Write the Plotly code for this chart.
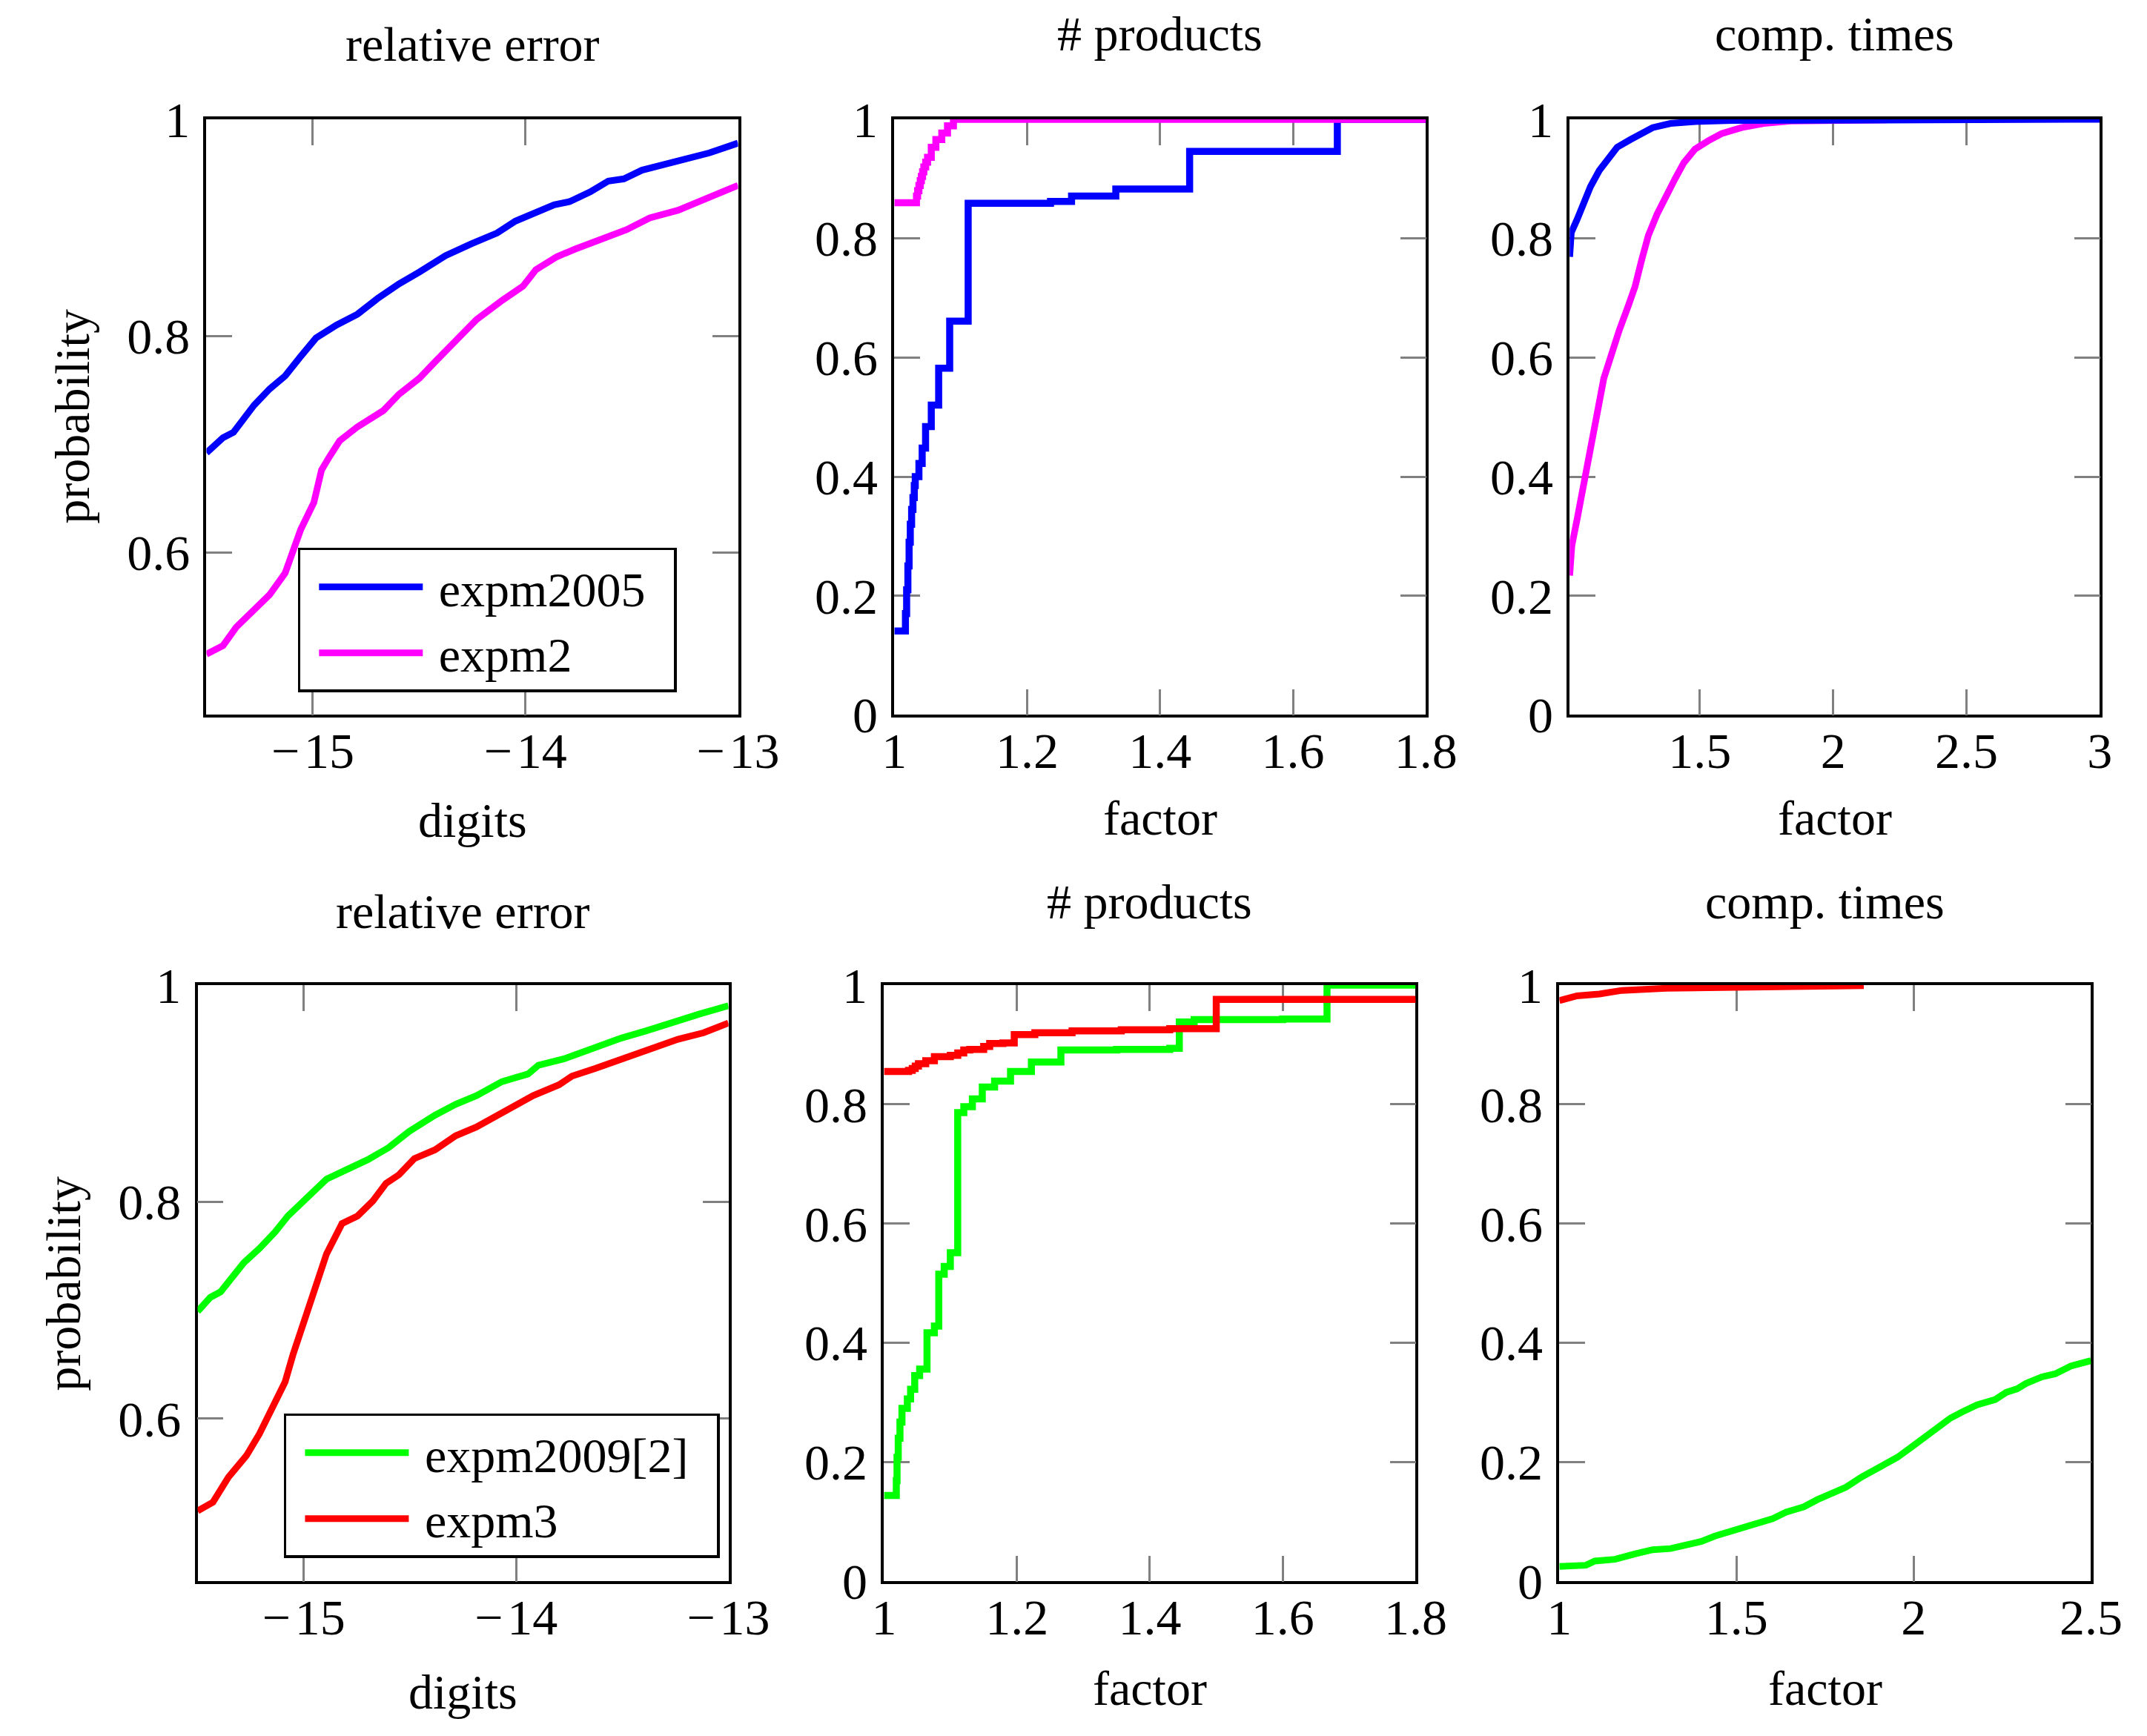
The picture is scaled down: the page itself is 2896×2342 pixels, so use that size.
import plotly.graph_objects as go

W, H = 2896, 2342
FONT = "Liberation Serif, Times New Roman, serif"

# relative error, top row
err_x_expm2005 = [-15.5, -15.422, -15.373, -15.337, -15.276, -15.203, -15.13, -15.057, -14.985, -14.888,
                  -14.79, -14.692, -14.595, -14.498, -14.376, -14.254, -14.133, -14.047, -13.962, -13.865,
                  -13.792, -13.695, -13.61, -13.537, -13.452, -13.33, -13.232, -13.135, -13.0]
err_y_expm2005 = [0.692, 0.706, 0.711, 0.721, 0.736, 0.751, 0.763, 0.781, 0.798, 0.810,
                  0.820, 0.835, 0.848, 0.859, 0.874, 0.885, 0.895, 0.906, 0.913, 0.921,
                  0.924, 0.933, 0.943, 0.945, 0.953, 0.959, 0.964, 0.969, 0.978]
err_x_expm2 = [-15.5, -15.422, -15.36, -15.276, -15.203, -15.13, -15.094, -15.057, -14.995, -14.959,
               -14.923, -14.874, -14.79, -14.668, -14.595, -14.498, -14.425, -14.352, -14.23, -14.108,
               -14.011, -13.951, -13.853, -13.768, -13.647, -13.525, -13.415, -13.282, -13.16, -13.0]
err_y_expm2 = [0.506, 0.514, 0.531, 0.546, 0.561, 0.581, 0.601, 0.621, 0.646, 0.676,
               0.688, 0.703, 0.716, 0.731, 0.746, 0.761, 0.776, 0.791, 0.815, 0.833,
               0.846, 0.861, 0.873, 0.880, 0.889, 0.898, 0.909, 0.916, 0.926, 0.939]

# products, top row (step curves)
prod_x_expm2005 = [1.0, 1.0167, 1.0185, 1.0204, 1.0222, 1.024, 1.026, 1.028, 1.030, 1.0315, 1.037,
                   1.0419, 1.047, 1.0556, 1.0667, 1.0833, 1.1111, 1.235, 1.2667, 1.3333, 1.4444,
                   1.6667, 1.8]
prod_y_expm2005 = [0.141, 0.17, 0.21, 0.25, 0.29, 0.32, 0.345, 0.365, 0.385, 0.40, 0.422,
                   0.448, 0.484, 0.52, 0.582, 0.661, 0.859, 0.862, 0.871, 0.883, 0.946,
                   1.0, 1.0]
prod_x_expm2 = [1.0, 1.0333, 1.035, 1.037, 1.039, 1.0407, 1.0425, 1.0444, 1.0472, 1.05, 1.0556,
                1.0625, 1.0714, 1.08, 1.0889, 1.8]
prod_y_expm2 = [0.860, 0.871, 0.880, 0.889, 0.897, 0.904, 0.912, 0.92, 0.928, 0.936, 0.953,
                0.966, 0.977, 0.989, 1.0, 1.0]

# comp. times, top row
time_x_expm2005 = [1.012, 1.018, 1.04, 1.065, 1.09, 1.123, 1.157, 1.19, 1.24, 1.282, 1.323,
                   1.39, 1.473, 1.623, 1.955, 3.0]
time_y_expm2005 = [0.769, 0.81, 0.832, 0.859, 0.887, 0.914, 0.935, 0.953, 0.966, 0.977, 0.986,
                   0.993, 0.996, 0.998, 0.999, 1.0]
time_x_expm2 = [1.012, 1.02, 1.04, 1.065, 1.09, 1.115, 1.14, 1.165, 1.198, 1.232, 1.257, 1.282,
                1.307, 1.34, 1.373, 1.407, 1.44, 1.482, 1.532, 1.582, 1.657, 1.74, 1.84, 2.2]
time_y_expm2 = [0.234, 0.284, 0.329, 0.393, 0.456, 0.506, 0.565, 0.601, 0.646, 0.687, 0.719, 0.764,
                0.805, 0.841, 0.873, 0.9, 0.927, 0.95, 0.964, 0.976, 0.986, 0.993, 0.997, 0.999]

# relative error, bottom row
err_x_expm2009 = [-15.5, -15.44, -15.392, -15.331, -15.282, -15.209, -15.136, -15.075, -15.002, -14.942,
                  -14.893, -14.796, -14.698, -14.601, -14.504, -14.382, -14.285, -14.187, -14.066, -13.944,
                  -13.895, -13.774, -13.628, -13.506, -13.384, -13.263, -13.141, -13.0]
err_y_expm2009 = [0.699, 0.712, 0.717, 0.732, 0.744, 0.757, 0.772, 0.787, 0.800, 0.812,
                  0.821, 0.830, 0.839, 0.850, 0.865, 0.880, 0.890, 0.898, 0.911, 0.918,
                  0.926, 0.932, 0.943, 0.951, 0.958, 0.966, 0.973, 0.981]
err_x_expm3 = [-15.5, -15.428, -15.355, -15.27, -15.209, -15.136, -15.088, -15.051, -15.002, -14.954,
               -14.893, -14.82, -14.747, -14.674, -14.613, -14.552, -14.479, -14.382, -14.285, -14.187,
               -14.09, -13.993, -13.92, -13.798, -13.737, -13.628, -13.506, -13.384, -13.238, -13.117, -13.0]
err_y_expm3 = [0.515, 0.523, 0.546, 0.566, 0.586, 0.614, 0.634, 0.659, 0.687, 0.719,
               0.752, 0.780, 0.787, 0.801, 0.817, 0.825, 0.840, 0.848, 0.861, 0.869,
               0.880, 0.891, 0.898, 0.908, 0.916, 0.923, 0.931, 0.940, 0.950, 0.956, 0.965]

# products, bottom row (step curves)
prod_x_expm2009 = [1.0, 1.0185, 1.0196, 1.0214, 1.024, 1.027, 1.0351, 1.04, 1.0462, 1.0536, 1.0647,
                   1.0758, 1.0824, 1.0906, 1.0998, 1.1109, 1.1201, 1.133, 1.1479, 1.1664, 1.1904,
                   1.2218, 1.2662, 1.35, 1.43, 1.4444, 1.4667, 1.6, 1.6667, 1.8]
prod_y_expm2009 = [0.144, 0.169, 0.208, 0.24, 0.267, 0.29, 0.306, 0.322, 0.345, 0.356, 0.417,
                   0.428, 0.515, 0.528, 0.551, 0.786, 0.796, 0.809, 0.829, 0.839, 0.855,
                   0.871, 0.891, 0.892, 0.894, 0.938, 0.942, 0.943, 1.0, 1.0]
prod_x_expm3 = [1.0, 1.037, 1.0425, 1.047, 1.0518, 1.0628, 1.0758, 1.0998, 1.111, 1.12, 1.129,
                1.15, 1.159, 1.179, 1.196, 1.227, 1.283, 1.357, 1.43, 1.5, 1.8]
prod_y_expm3 = [0.855, 0.857, 0.86, 0.864, 0.868, 0.873, 0.88, 0.882, 0.886, 0.891, 0.892,
                0.897, 0.902, 0.903, 0.917, 0.92, 0.923, 0.925, 0.927, 0.976, 0.978]

# comp. times, bottom row
time_x_expm2009 = [1.0, 1.075, 1.1, 1.157, 1.213, 1.263, 1.314, 1.401, 1.439, 1.501, 1.552, 1.602,
                   1.64, 1.69, 1.728, 1.778, 1.809, 1.853, 1.903, 1.954, 1.991, 2.029, 2.066, 2.104,
                   2.136, 2.179, 2.23, 2.261, 2.292, 2.317, 2.362, 2.399, 2.443, 2.5]
time_y_expm2009 = [0.025, 0.027, 0.034, 0.037, 0.046, 0.053, 0.055, 0.067, 0.076, 0.087, 0.095, 0.105,
                   0.116, 0.125, 0.137, 0.151, 0.158, 0.175, 0.192, 0.208, 0.224, 0.242, 0.256, 0.274,
                   0.284, 0.296, 0.305, 0.317, 0.323, 0.332, 0.343, 0.348, 0.361, 0.37]
time_x_expm3 = [1.0, 1.05, 1.113, 1.176, 1.301, 1.427, 1.552, 1.859]
time_y_expm3 = [0.974, 0.982, 0.985, 0.991, 0.9945, 0.996, 0.997, 0.999]

BLUE, MAGENTA, GREEN, RED = "#0000ff", "#ff00ff", "#00ff00", "#ff0000"
NB = "\u00a0"


def px(x):
    return x / W


def py(y):
    return 1 - y / H


fig = go.Figure()


def add(x, y, color, ax, name=None, legend=None, shape="linear", width=9):
    fig.add_trace(go.Scatter(
        x=x, y=y, mode="lines", name=name,
        line=dict(color=color, width=width, shape=shape),
        xaxis="x" + ax, yaxis="y" + ax,
        showlegend=name is not None, legend=legend,
    ))


add(err_x_expm2005, err_y_expm2005, BLUE, "", NB + "expm2005" + NB * 2, "legend")
add(err_x_expm2, err_y_expm2, MAGENTA, "", NB + "expm2", "legend")
add(prod_x_expm2005, prod_y_expm2005, BLUE, "2", shape="hv", width=9.5)
add(prod_x_expm2, prod_y_expm2, MAGENTA, "2", shape="hv", width=9.5)
add(time_x_expm2, time_y_expm2, MAGENTA, "3")
add(time_x_expm2005, time_y_expm2005, BLUE, "3")
add(err_x_expm2009, err_y_expm2009, GREEN, "4", NB + "expm2009[2]" + NB * 2, "legend2")
add(err_x_expm3, err_y_expm3, RED, "4", NB + "expm3", "legend2")
add(prod_x_expm2009, prod_y_expm2009, GREEN, "5", shape="hv", width=9.5)
add(prod_x_expm3, prod_y_expm3, RED, "5", shape="hv", width=9.5)
add(time_x_expm2009, time_y_expm2009, GREEN, "6")
add(time_x_expm3, time_y_expm3, RED, "6")

# subplot boxes in pixels: (left, right, top, bottom)
boxes = [
    (272, 993, 154, 963), (1205, 1926, 154, 963), (2121, 2840, 154, 963),
    (260, 980, 1330, 2140), (1191, 1912, 1330, 2140), (2107, 2828, 1330, 2140),
]
MINUS = "\u2212\u200a"
xranges = [[-15.5, -13], [1, 1.8], [1.012, 3], [-15.5, -13], [1, 1.8], [1, 2.5]]
yranges = [[0.45, 1], [0, 1], [0, 1], [0.45, 1], [0, 1], [0, 1]]
xticks = [[-15, -14, -13], [1, 1.2, 1.4, 1.6, 1.8], [1.5, 2, 2.5, 3],
          [-15, -14, -13], [1, 1.2, 1.4, 1.6, 1.8], [1, 1.5, 2, 2.5]]
xticktext = [[MINUS + "15", MINUS + "14", MINUS + "13"], ["1", "1.2", "1.4", "1.6", "1.8"],
             ["1.5", "2", "2.5", "3"],
             [MINUS + "15", MINUS + "14", MINUS + "13"], ["1", "1.2", "1.4", "1.6", "1.8"],
             ["1", "1.5", "2", "2.5"]]
yticks_err = [0.6, 0.8, 1]
yticks_full = [0, 0.2, 0.4, 0.6, 0.8, 1]

axis_common = dict(
    showline=True, linecolor="black", linewidth=3.5, mirror="allticks",
    ticks="inside", ticklen=35, tickwidth=2.5, tickcolor="#808080",
    showgrid=False, zeroline=False, layer="below traces", automargin=False,
    tickfont=dict(family=FONT, size=68, color="black"),
)

layout = {}
for i, (l, r, t, b) in enumerate(boxes):
    sfx = "" if i == 0 else str(i + 1)
    yt = yticks_err if yranges[i][0] > 0 else yticks_full
    layout["xaxis" + sfx] = dict(
        axis_common, domain=[px(l), px(r)], range=xranges[i], anchor="y" + sfx,
        tickvals=xticks[i], ticktext=xticktext[i], ticklabelstandoff=-14,
    )
    layout["yaxis" + sfx] = dict(
        axis_common, domain=[py(b), py(t)], range=yranges[i], anchor="x" + sfx,
        tickvals=yt, ticktext=[("%g" % v) for v in yt], ticklabelstandoff=5,
    )

titles = ["relative error", "# products", "comp. times"] * 2
title_y = [52, 38, 38, 1230, 1217, 1217]
xlabels = ["digits", "factor", "factor"] * 2
xlabel_y = [1106, 1103, 1103, 2290, 2285, 2285]

ann = []
for i, (l, r, t, b) in enumerate(boxes):
    cx = px((l + r) / 2)
    ann.append(dict(text=titles[i], x=cx, y=py(title_y[i]), xref="paper", yref="paper",
                    xanchor="center", yanchor="middle", showarrow=False,
                    font=dict(family=FONT, size=66, color="black")))
    ann.append(dict(text=xlabels[i], x=cx, y=py(xlabel_y[i]), xref="paper", yref="paper",
                    xanchor="center", yanchor="middle", showarrow=False,
                    font=dict(family=FONT, size=66, color="black")))
for xp, yc in [(90, 558), (78, 1736)]:
    ann.append(dict(text="probability", x=px(xp), y=py(yc), xref="paper", yref="paper",
                    xanchor="center", yanchor="middle", showarrow=False, textangle=-90,
                    font=dict(family=FONT, size=66, color="black")))

legend_common = dict(
    xanchor="left", yanchor="top", bgcolor="white", bordercolor="black", borderwidth=3.5,
    font=dict(family=FONT, size=66, color="black"), itemwidth=140, tracegroupgap=0,
    indentation=20,
)

fig.update_layout(
    **layout,
    annotations=ann,
    legend=dict(legend_common, x=px(396), y=py(736)),
    legend2=dict(legend_common, x=px(377), y=py(1912)),
    margin=dict(l=0, r=0, t=0, b=0),
    paper_bgcolor="white", plot_bgcolor="white",
)

fig.write_html("out.html")
